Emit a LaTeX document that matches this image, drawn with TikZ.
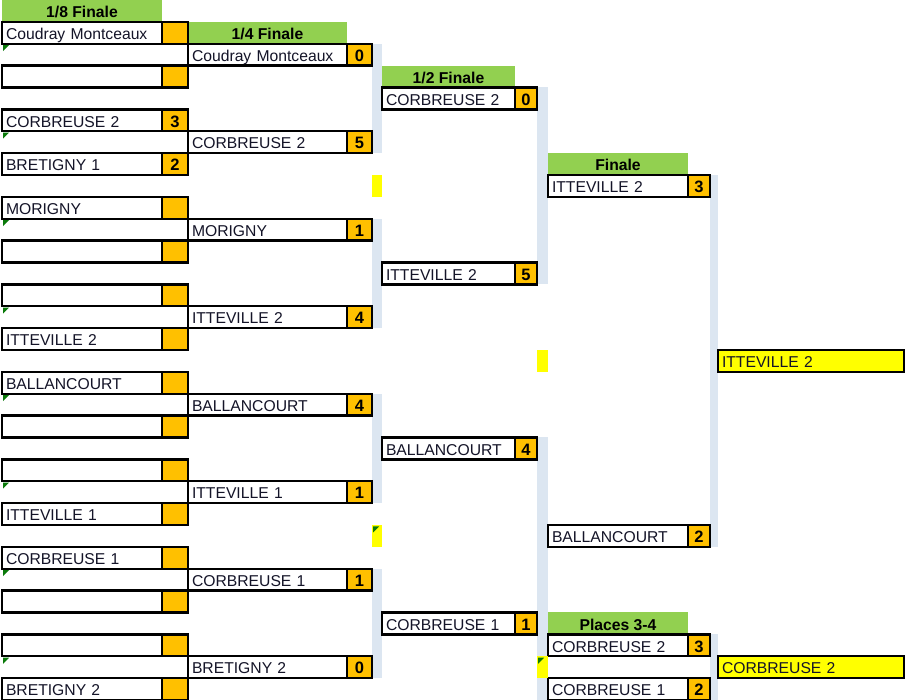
\documentclass[tikz,border=0pt]{standalone}
\usepackage{fontspec}
\setmainfont{Liberation Sans}
\definecolor{sc}{HTML}{FFC000}
\definecolor{hd}{HTML}{92D050}
\definecolor{st}{HTML}{DCE6F1}
\definecolor{yl}{HTML}{FFFF00}
\definecolor{tx}{HTML}{141428}
\definecolor{tri}{HTML}{0A7A0A}
\pgfdeclarelayer{bg}
\pgfsetlayers{bg,main}
\newcommand{\RowH}{21.875}
\newcommand{\team}[7]{%
  \pgfmathsetmacro{\tw}{#3-8}%
  \node[namebox, minimum width=#3pt, text width=\tw pt] (#1) at (#2,{#5*\RowH}) {#6};
  \node[scorebox, minimum width=#4pt] (#1s) at (#1.north east) {#7};
}
\newcommand{\mytri}[2]{\fill[tri] (#1,{#2*\RowH+1.5}) -- ++(6,0) -- ++(-6,6) -- cycle;}
\tikzset{
  basefont/.style={font=\fontsize{15.7}{18}\selectfont},
  namebox/.style={draw=black, line width=2.3pt, fill=white, anchor=north west, outer sep=0pt,
    inner xsep=4pt, inner ysep=0pt, minimum height=21.875pt, text height=13.5pt, text depth=0pt,
    align=left, basefont, text=tx},
  scorebox/.style={draw=black, line width=2.3pt, fill=sc, anchor=north west, outer sep=0pt,
    inner sep=0pt, minimum height=21.875pt, text height=13.5pt, text depth=0pt,
    font=\fontsize{16.5}{18}\selectfont\bfseries, text=black},
  header/.style={fill=hd, anchor=north west, outer sep=0pt, inner sep=0pt,
    minimum height=21.875pt, text height=13.5pt, text depth=0pt,
    font=\fontsize{15.7}{18}\selectfont\bfseries, text=black},
  strip/.style={fill=st},
  yel/.style={fill=yl}
}
\begin{document}
\begin{tikzpicture}[x=1pt,y=-1pt]
\begin{pgfonlayer}{bg}
\fill[white] (0,0) rectangle (906,700);
\end{pgfonlayer}
\useasboundingbox (0,0) rectangle (906,700);
% headers
\node[header, minimum width=160pt] (h8) at (2,0) {1/8 Finale};
\node[header, minimum width=159pt] (h4) at (188,{1*\RowH}) {1/4 Finale};
\node[header, minimum width=133pt] (h2) at (382,{3*\RowH}) {1/2 Finale};
\node[header, minimum width=140pt] (hf) at (548,{7*\RowH}) {Finale};
\node[header, minimum width=140pt] (hp) at (548,{28*\RowH}) {Places 3-4};
% 1/8
\team{e1}{2}{160}{26}{1}{Coudray Montceaux}{}
\team{e2}{2}{160}{26}{3}{}{}
\team{e3}{2}{160}{26}{5}{CORBREUSE 2}{3}
\team{e4}{2}{160}{26}{7}{BRETIGNY 1}{2}
\team{e5}{2}{160}{26}{9}{MORIGNY}{}
\team{e6}{2}{160}{26}{11}{}{}
\team{e7}{2}{160}{26}{13}{}{}
\team{e8}{2}{160}{26}{15}{ITTEVILLE 2}{}
\team{e9}{2}{160}{26}{17}{BALLANCOURT}{}
\team{e10}{2}{160}{26}{19}{}{}
\team{e11}{2}{160}{26}{21}{}{}
\team{e12}{2}{160}{26}{23}{ITTEVILLE 1}{}
\team{e13}{2}{160}{26}{25}{CORBREUSE 1}{}
\team{e14}{2}{160}{26}{27}{}{}
\team{e15}{2}{160}{26}{29}{}{}
\team{e16}{2}{160}{26}{31}{BRETIGNY 2}{}
% 1/4
\team{q1}{188}{159}{25}{2}{Coudray Montceaux}{0}
\team{q2}{188}{159}{25}{6}{CORBREUSE 2}{5}
\team{q3}{188}{159}{25}{10}{MORIGNY}{1}
\team{q4}{188}{159}{25}{14}{ITTEVILLE 2}{4}
\team{q5}{188}{159}{25}{18}{BALLANCOURT}{4}
\team{q6}{188}{159}{25}{22}{ITTEVILLE 1}{1}
\team{q7}{188}{159}{25}{26}{CORBREUSE 1}{1}
\team{q8}{188}{159}{25}{30}{BRETIGNY 2}{0}
% 1/2
\team{s1}{382}{133}{22}{4}{CORBREUSE 2}{0}
\team{s2}{382}{133}{22}{12}{ITTEVILLE 2}{5}
\team{s3}{382}{133}{22}{20}{BALLANCOURT}{4}
\team{s4}{382}{133}{22}{28}{CORBREUSE 1}{1}
% finale
\team{f1}{548}{140}{22}{8}{ITTEVILLE 2}{3}
\team{f2}{548}{140}{22}{24}{BALLANCOURT}{2}
% places 3-4
\team{p1}{548}{140}{22}{29}{CORBREUSE 2}{3}
\team{p2}{548}{140}{22}{31}{CORBREUSE 1}{2}
% winners
\node[namebox, fill=yl, minimum width=186pt, text width=178pt] (w1) at (718,{16*\RowH}) {ITTEVILLE 2};
\node[namebox, fill=yl, minimum width=186pt, text width=178pt] (w2) at (718,{30*\RowH}) {CORBREUSE 2};
% connector strips
\begin{pgfonlayer}{bg}
\fill[strip] (q1s.north east) rectangle ([xshift=10pt]q2s.south east);
\fill[strip] (q3s.north east) rectangle ([xshift=10pt]q4s.south east);
\fill[strip] (q5s.north east) rectangle ([xshift=10pt]q6s.south east);
\fill[strip] (q7s.north east) rectangle ([xshift=10pt]q8s.south east);
\fill[strip] (s1s.north east) rectangle ([xshift=11pt]s2s.south east);
\fill[strip] (s3s.north east) rectangle (p2.south west);
\fill[strip] (f1s.north east) rectangle ([xshift=8pt]f2s.south east);
\fill[strip] (p1s.north east) rectangle ([xshift=8pt]p2s.south east);
\end{pgfonlayer}
% yellow cells
\fill[yel] (372,{8*\RowH}) rectangle (382,{9*\RowH});
\fill[yel] (372,{24*\RowH}) rectangle (382,{25*\RowH});
\fill[yel] (537,{16*\RowH}) rectangle (548,{17*\RowH});
\fill[yel] (537,{30*\RowH}) rectangle (548,{31*\RowH});
% indicator triangles
\foreach \r in {2,6,10,14,18,22,26,30} {\mytri{3}{\r}}
\mytri{373}{24}
\mytri{538}{30}
\end{tikzpicture}
\end{document}
